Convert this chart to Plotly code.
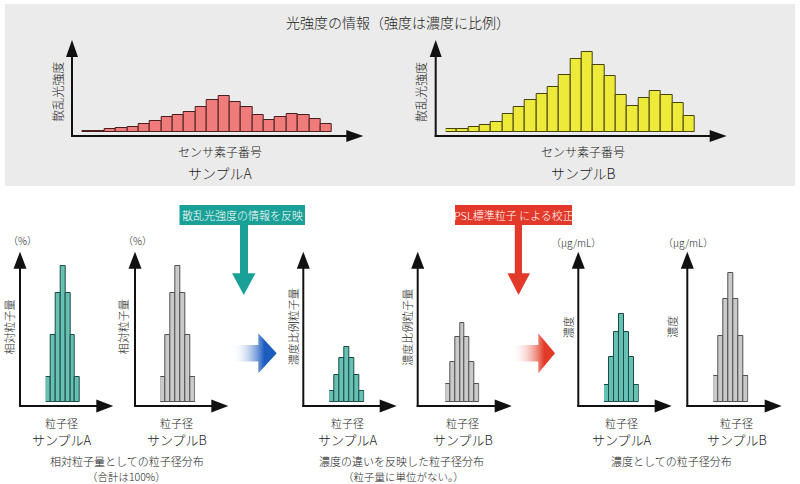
import plotly.graph_objects as go

W, H = 800, 484
FONT = "Noto Sans CJK JP"

# ---------------- data ----------------
# scattered light intensity per sensor element (relative units)
sensor_A = [1.3, 1.3, 3.0, 4.0, 5.3, 7.7, 11.3, 14.7, 16.7, 20.0, 25.3, 32.0,
            35.7, 29.7, 24.7, 16.7, 11.7, 14.7, 18.0, 16.7, 13.3, 7.7]
sensor_B = [3.0, 3.0, 5.3, 7.0, 9.7, 17.7, 25.0, 32.3, 37.7, 45.0, 56.7, 72.7,
            79.7, 66.7, 55.7, 37.0, 26.0, 33.7, 41.0, 37.3, 29.0, 16.3]
# relative particle amount (%), sums to 100
rel_A = [4.7, 12.5, 20.2, 25.3, 20.2, 12.5, 4.7]
rel_B = [4.7, 12.5, 20.2, 25.3, 20.2, 12.5, 4.7]
# concentration-proportional particle amount (no unit)
prop_A = [10.7, 26.7, 43.7, 55.3, 43.7, 26.7, 10.7]
prop_B = [18.0, 40.3, 65.3, 78.7, 65.3, 40.3, 18.0]
# concentration (ug/mL)
conc_A = [17.0, 45.3, 70.3, 88.0, 70.3, 45.3, 17.0]
conc_B = [26.0, 66.3, 103.0, 128.7, 103.0, 66.3, 26.0]


def X(px):
    return px / W


def Y(py):
    return 1 - py / H


# chart panels: (values, bar-left px, bar-right px, baseline px, height px, px-per-unit, fill, edge)
RED, RED_E = "#f07b7b", "#4a1e1e"
YEL, YEL_E = "#eeea3a", "#45420e"
TEAL, TEAL_E = "#66c0b4", "#1c4a45"
GRAY, GRAY_E = "#cacaca", "#505050"
panels = [
    (sensor_A, 81.7, 332.0, 132, 92, 1.0, RED, RED_E),
    (sensor_B, 445.7, 695.0, 132, 92, 1.0, YEL, YEL_E),
    (rel_A, 45.7, 80.0, 402, 148, 136 / 25.3, TEAL, TEAL_E),
    (rel_B, 160.3, 195.0, 402, 148, 136 / 25.3, GRAY, GRAY_E),
    (prop_A, 329.3, 364.3, 402, 148, 1.0, TEAL, TEAL_E),
    (prop_B, 445.3, 479.3, 402, 148, 1.0, GRAY, GRAY_E),
    (conc_A, 604.0, 638.7, 402, 148, 1.0, TEAL, TEAL_E),
    (conc_B, 713.3, 748.3, 402, 148, 1.0, GRAY, GRAY_E),
]

fig = go.Figure()
layout_axes = {}
for i, (vals, xl, xr, base, hpx, scale, fc, ec) in enumerate(panels, start=1):
    sfx = "" if i == 1 else str(i)
    n = len(vals)
    fig.add_trace(go.Bar(
        x=list(range(n)), y=vals, width=1,
        marker=dict(color=fc, line=dict(color=ec, width=1)),
        xaxis="x" + sfx, yaxis="y" + sfx, showlegend=False, hoverinfo="skip",
    ))
    layout_axes["xaxis" + sfx] = dict(domain=[X(xl), X(xr)], range=[-0.5, n - 0.5],
                                      visible=False, fixedrange=True, anchor="y" + sfx)
    layout_axes["yaxis" + sfx] = dict(domain=[Y(base), Y(base - hpx)], range=[0, hpx / scale],
                                      visible=False, fixedrange=True, anchor="x" + sfx)

# overlay axis in pixel units for the gradient arrows
layout_axes["xaxis9"] = dict(domain=[0, 1], range=[0, W], visible=False, fixedrange=True, anchor="y9")
layout_axes["yaxis9"] = dict(domain=[0, 1], range=[H, 0], visible=False, fixedrange=True, anchor="x9")


def grad_arrow(x0, xh, xt, yc, sh, hh, color, fade):
    xs = [x0, xh, xh, xt, xh, xh, x0, x0]
    ys = [yc - sh, yc - sh, yc - hh, yc, yc + hh, yc + sh, yc + sh, yc - sh]
    fig.add_trace(go.Scatter(
        x=xs, y=ys, mode="lines", fill="toself", line=dict(width=0),
        fillgradient=dict(type="horizontal", start=x0, stop=xh + 6,
                          colorscale=[[0, fade], [1, color]]),
        xaxis="x9", yaxis="y9", showlegend=False, hoverinfo="skip",
    ))


grad_arrow(232, 258.3, 276.7, 353.3, 8.3, 20, "#1d5cbf", "rgba(255,255,255,0)")
grad_arrow(511.7, 538.3, 555.0, 353.3, 8.3, 20, "#e23a26", "rgba(255,255,255,0)")

shapes = []
# grey top panel
shapes.append(dict(type="rect", xref="paper", yref="paper", x0=X(5), x1=X(795), y0=Y(186), y1=Y(4),
                   fillcolor="#ebebeb", line=dict(width=0), layer="below"))


def tri(pts, color):
    p = "M " + " L ".join(f"{X(a):.5f},{Y(b):.5f}" for a, b in pts) + " Z"
    shapes.append(dict(type="path", xref="paper", yref="paper", path=p,
                       fillcolor=color, line=dict(width=0)))


def axes_arrows(x0, y0, ytip, xtip, lw=2, hl=17, hw=6.5):
    c = "#111111"
    shapes.append(dict(type="line", xref="paper", yref="paper", x0=X(x0), x1=X(x0),
                       y0=Y(y0 + 1), y1=Y(ytip + hl - 1), line=dict(color=c, width=lw)))
    shapes.append(dict(type="line", xref="paper", yref="paper", x0=X(x0 - 1), x1=X(xtip - hl + 1),
                       y0=Y(y0), y1=Y(y0), line=dict(color=c, width=lw)))
    tri([(x0, ytip), (x0 - hw, ytip + hl), (x0 + hw, ytip + hl)], c)
    tri([(xtip, y0), (xtip - hl, y0 - hw), (xtip - hl, y0 + hw)], c)


axes_arrows(72, 136, 40, 363.3, hw=6)
axes_arrows(435.7, 136, 40, 726.7, hw=6)
for yx, xt in [(20, 113.3), (135, 228.3), (303.3, 396.7), (417.7, 511.7), (578.3, 671.7), (687.3, 781.7)]:
    axes_arrows(yx, 406, 251.7, xt, hl=17, hw=6.5)

# vertical labelled arrows
TEALB = "#19a198"
REDB = "#e2392a"
shapes.append(dict(type="rect", xref="paper", yref="paper", x0=X(179.5), x1=X(305), y0=Y(225), y1=Y(205),
                   fillcolor=TEALB, line=dict(width=0)))
shapes.append(dict(type="rect", xref="paper", yref="paper", x0=X(240), x1=X(248), y0=Y(274), y1=Y(225),
                   fillcolor=TEALB, line=dict(width=0)))
tri([(232, 273.3), (255.5, 273.3), (243.8, 295)], TEALB)
shapes.append(dict(type="rect", xref="paper", yref="paper", x0=X(455), x1=X(572), y0=Y(225), y1=Y(205),
                   fillcolor=REDB, line=dict(width=0)))
shapes.append(dict(type="rect", xref="paper", yref="paper", x0=X(514.8), x1=X(522), y0=Y(274), y1=Y(225),
                   fillcolor=REDB, line=dict(width=0)))
tri([(507.5, 273.3), (530, 273.3), (518.5, 295)], REDB)

ann = []


def txt(x, y, s, size=11, color="#222222", angle=0):
    ann.append(dict(x=X(x), y=Y(y), xref="paper", yref="paper", text=s, showarrow=False,
                    xanchor="center", yanchor="middle", textangle=angle,
                    font=dict(family=FONT, size=size, color=color, weight=300)))


txt(398, 22, "光強度の情報（強度は濃度に比例）", 14)
txt(56.7, 92, "散乱光強度", 12, angle=-90)
txt(420, 92, "散乱光強度", 12, angle=-90)
txt(220, 151, "センサ素子番号", 12)
txt(583.3, 151, "センサ素子番号", 12)
txt(220, 173, "サンプルA", 14)
txt(583.3, 173, "サンプルB", 14)

txt(242.3, 215, "散乱光強度の情報を反映", 11, color="white")
txt(513.5, 215, "PSL標準粒子 による校正", 11, color="white")

txt(22, 240, "（%）", 10)
txt(137, 240, "（%）", 10)
txt(576, 242, "（µg/mL）", 10)
txt(688, 242, "（µg/mL）", 10)

txt(8.5, 327, "相対粒子量", 11, angle=-90)
txt(123.3, 327, "相対粒子量", 11, angle=-90)
txt(293.3, 327, "濃度比例粒子量", 11, angle=-90)
txt(406.7, 327, "濃度比例粒子量", 11, angle=-90)
txt(568.3, 327, "濃度", 11, angle=-90)
txt(671.7, 327, "濃度", 11, angle=-90)

for cx, lab in [(61.7, "サンプルA"), (176.7, "サンプルB"), (347.5, "サンプルA"),
                (462.5, "サンプルB"), (621.7, "サンプルA"), (736.7, "サンプルB")]:
    txt(cx, 423, "粒子径", 11)
    txt(cx, 439, lab, 13)

txt(126.7, 461.3, "相対粒子量としての粒子径分布", 11)
txt(126.7, 476, "（合計は100%）", 10.5)
txt(402, 461.3, "濃度の違いを反映した粒子径分布", 11)
txt(403, 476, "（粒子量に単位がない。）", 10.5)
txt(671.7, 461.3, "濃度としての粒子径分布", 11)

fig.update_layout(
    width=W, height=H, margin=dict(l=0, r=0, t=0, b=0),
    paper_bgcolor="white", plot_bgcolor="rgba(0,0,0,0)",
    bargap=0, showlegend=False, shapes=shapes, annotations=ann,
    font=dict(family=FONT), **layout_axes,
)
fig.write_html("out.html", config={"displayModeBar": False},
               post_script="document.body.style.margin='0px';")
